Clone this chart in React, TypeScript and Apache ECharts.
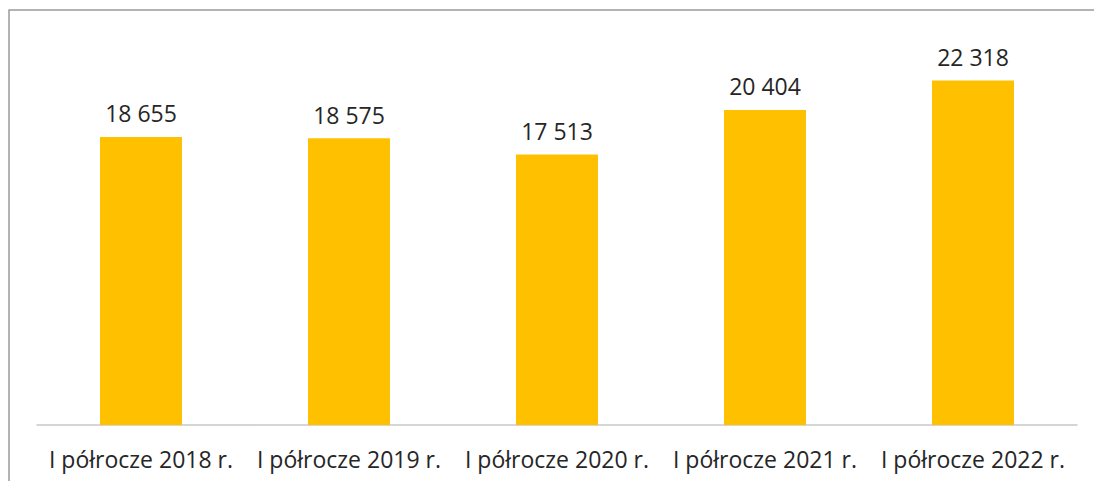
import React, { useEffect, useRef } from "react";
import * as echarts from "echarts";

const categories = [
  "I półrocze 2018 r.",
  "I półrocze 2019 r.",
  "I półrocze 2020 r.",
  "I półrocze 2021 r.",
  "I półrocze 2022 r.",
];
const values = [18655, 18575, 17513, 20404, 22318];

const fmt = (v: number) => String(v).replace(/\B(?=(\d{3})+(?!\d))/g, " ");

export default function App() {
  const ref = useRef<HTMLDivElement>(null);
  useEffect(() => {
    document.body.style.margin = "0";
    const chart = echarts.init(ref.current!, undefined, { renderer: "svg" });
    chart.setOption({
      animation: false,
      backgroundColor: "#ffffff",
      grid: { left: 37, right: 17, top: 39, bottom: 56 },
      graphic: [
        {
          type: "rect",
          shape: { x: 9, y: 10, width: 1200, height: 600 },
          style: { fill: "none", stroke: "#9a9a9a", lineWidth: 1.5 },
          silent: true,
        },
      ],
      xAxis: {
        type: "category",
        data: categories,
        axisTick: { show: false },
        axisLine: { lineStyle: { color: "#c8c8c8", width: 1.5 } },
        axisLabel: {
          color: "#262626",
          fontFamily: "Open Sans",
          fontSize: 23,
          margin: 22,
          interval: 0,
        },
      },
      yAxis: {
        type: "value",
        min: 0,
        max: 25000,
        show: false,
        splitLine: { show: false },
      },
      series: [
        {
          type: "bar",
          data: values,
          barWidth: "39.4%",
          itemStyle: { color: "#FFC000" },
          label: {
            show: true,
            position: "top",
            distance: 12,
            color: "#262626",
            fontFamily: "Open Sans",
            fontSize: 23,
            formatter: (p: any) => fmt(p.value),
          },
        },
      ],
    });
    return () => chart.dispose();
  }, []);
  return <div ref={ref} style={{ width: 1094, height: 481 }} />;
}
